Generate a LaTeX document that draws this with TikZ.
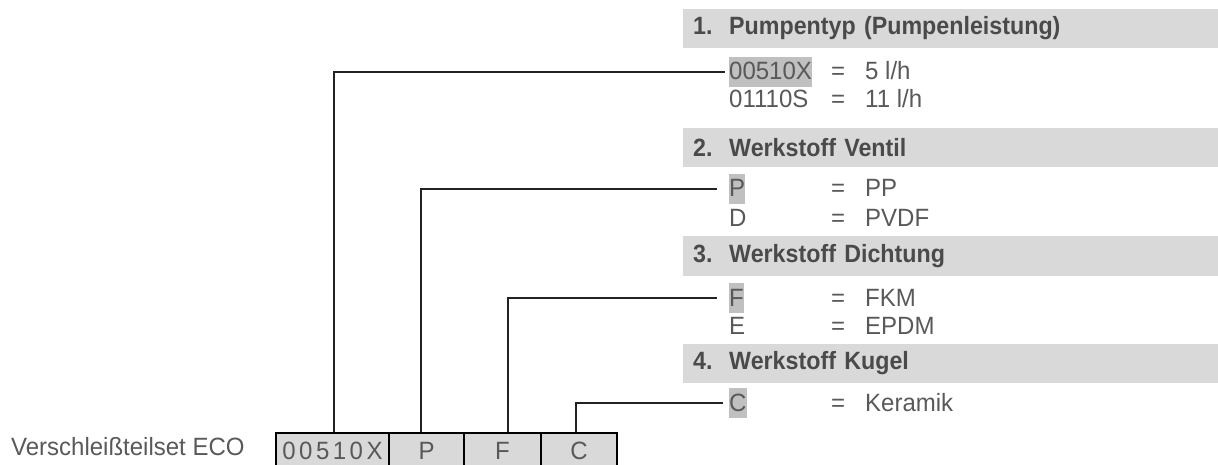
\documentclass[tikz,border=0pt]{standalone}
\usepackage{fontspec}
\setmainfont{Liberation Sans}[FakeStretch=0.96]
\newfontfamily\hdrfont{Liberation Sans}[FakeStretch=0.93]
\definecolor{txt}{HTML}{595959}
\definecolor{hdtxt}{HTML}{4A4A4A}
\definecolor{hdrfill}{HTML}{D9D9D9}
\definecolor{hlfill}{HTML}{C0C0C0}
\definecolor{cellfill}{HTML}{D9D9D9}
\definecolor{linec}{HTML}{222222}
\tikzset{
  base/.style={inner sep=0pt, text height=23pt, text depth=7pt, anchor=west, text=txt},
  code/.style={base, fill=hlfill},
  hdrbar/.style={fill=hdrfill, anchor=west, minimum height=39pt, text width=515pt, align=left,
     inner xsep=10pt, inner ysep=0pt, font=\hdrfont\bfseries\fontsize{25}{28}\selectfont, text=hdtxt},
  cell/.style={draw=black, line width=2pt, fill=cellfill, anchor=north west, minimum height=36pt,
     inner sep=0pt, text=txt},
  conn/.style={draw=linec, line width=1.3pt},
}
\begin{document}
\begin{tikzpicture}[x=1pt,y=-1pt, font=\fontsize{25}{28}\selectfont]
\useasboundingbox (0,0) rectangle (1218,465);

% headers
\node[hdrbar] (h1) at (683,28.5) {\makebox[36pt][l]{1.}Pumpentyp (Pumpenleistung)};
\node[hdrbar] (h2) at (683,147.5) {\makebox[36pt][l]{2.}Werkstoff Ventil};
\node[hdrbar] (h3) at (683,256) {\makebox[36pt][l]{3.}Werkstoff Dichtung};
\node[hdrbar] (h4) at (683,363.5) {\makebox[36pt][l]{4.}Werkstoff Kugel};

% section 1
\node[code] (k1) at (729,72) {00510X};
\node[base, anchor=center] (e1) at (838,72) {=};
\node[base] (v1) at (865,72) {5 l/h};
\node[base] (k1b) at (729,100) {01110S};
\node[base, anchor=center] (e1b) at (838,100) {=};
\node[base] (v1b) at (865,100) {11 l/h};

% section 2
\node[code] (k2) at (729,189) {P};
\node[base, anchor=center] (e2) at (838,189) {=};
\node[base] (v2) at (865,189) {PP};
\node[base] (k2b) at (729,219) {D};
\node[base, anchor=center] (e2b) at (838,219) {=};
\node[base] (v2b) at (865,219) {PVDF};

% section 3
\node[code] (k3) at (729,298) {F};
\node[base, anchor=center] (e3) at (838,298) {=};
\node[base] (v3) at (865,298) {FKM};
\node[base] (k3b) at (729,326) {E};
\node[base, anchor=center] (e3b) at (838,326) {=};
\node[base] (v3b) at (865,326) {EPDM};

% section 4
\node[code] (k4) at (729,403) {C};
\node[base, anchor=center] (e4) at (838,403) {=};
\node[base] (v4) at (865,403) {Keramik};

% label and code box
\node[base] (lbl) at (11,447) {Verschleißteilset ECO};
\node[cell, minimum width=113pt] (c1) at (275,432) {\addfontfeature{LetterSpace=14}00510X};
\node[cell, minimum width=75pt] (c2) at (388,432) {P};
\node[cell, minimum width=77pt] (c3) at (463,432) {F};
\node[cell, minimum width=76pt] (c4) at (540,432) {C};

% connectors
\draw[conn] ([xshift=1.5pt]c1.north) |- ([xshift=-4pt]k1.west);
\draw[conn] ([xshift=-5.5pt]c2.north) |- ([xshift=-12pt]k2.west);
\draw[conn] ([xshift=5.5pt]c3.north) |- ([xshift=-12pt]k3.west);
\draw[conn] ([xshift=-3pt]c4.north) |- ([xshift=-6pt]k4.west);
\end{tikzpicture}
\end{document}
